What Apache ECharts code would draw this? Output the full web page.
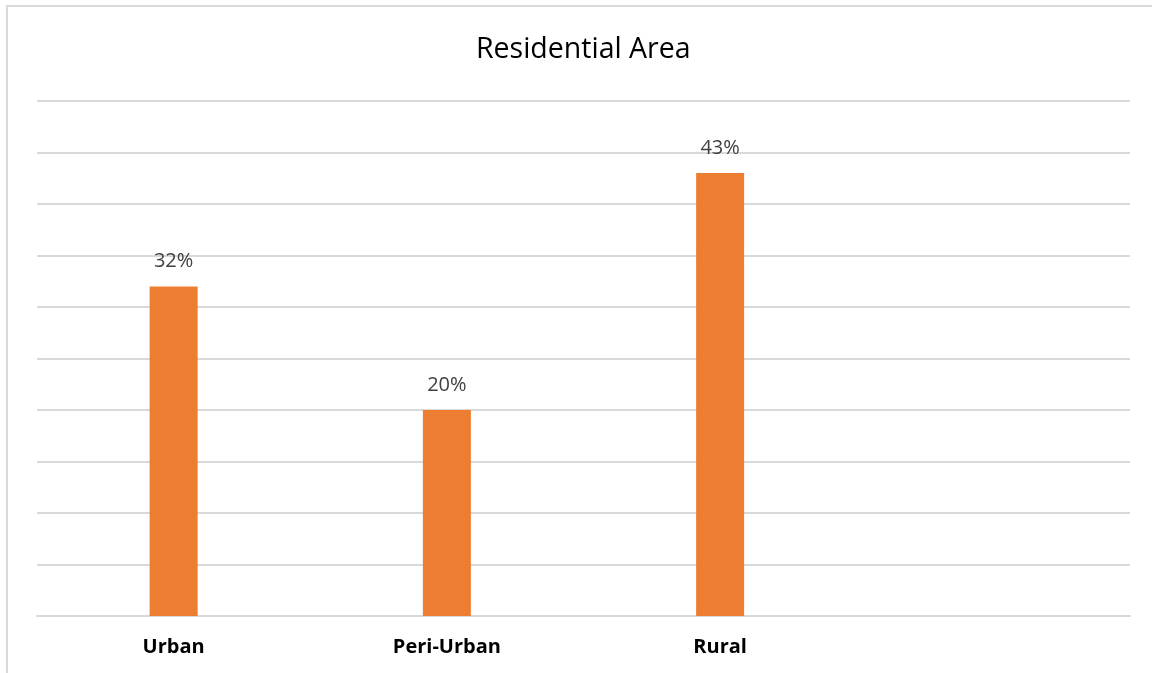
<!DOCTYPE html>
<html>
<head>
<meta charset="utf-8">
<script src="https://cdn.jsdelivr.net/npm/echarts@6/dist/echarts.min.js"></script>
<style>
html,body{margin:0;padding:0;background:#fff;}
#chart{width:1152px;height:673px;}
</style>
</head>
<body>
<div id="chart"></div>
<script>
const categories = ['Urban', 'Peri-Urban', 'Rural', ''];
const values = [32, 20, 43, null];
const titleText = 'Residential Area';

const chart = echarts.init(document.getElementById('chart'));
chart.setOption({
  animation: false,
  backgroundColor: '#fff',
  graphic: [{
    type: 'rect',
    shape: { x: 7, y: 6, width: 1200, height: 720 },
    style: { fill: 'none', stroke: '#d9d9d9', lineWidth: 2 },
    silent: true
  }],
  title: {
    text: titleText,
    left: 471,
    top: 30,
    textStyle: { fontFamily: 'Open Sans', fontWeight: 'normal', fontSize: 28.5, color: '#000' }
  },
  grid: { left: 37, right: 22, top: 101, bottom: 57 },
  xAxis: {
    type: 'category',
    data: categories,
    axisLine: { lineStyle: { color: '#d9d9d9', width: 2 } },
    axisTick: { show: false },
    axisLabel: { margin: 21, fontFamily: 'Open Sans', fontWeight: 'bold', fontSize: 20, color: '#000' }
  },
  yAxis: {
    type: 'value',
    min: 0, max: 50, interval: 5,
    axisLabel: { show: false },
    axisLine: { show: false },
    axisTick: { show: false },
    splitLine: { lineStyle: { color: '#d9d9d9', width: 2 } }
  },
  series: [{
    type: 'bar',
    data: values,
    barWidth: 48,
    itemStyle: { color: '#ED7D31' },
    label: {
      show: true, position: 'top', distance: 15,
      formatter: p => p.value + '%',
      fontFamily: 'Open Sans', fontSize: 20, color: '#404040'
    }
  }]
});
</script>
</body>
</html>
